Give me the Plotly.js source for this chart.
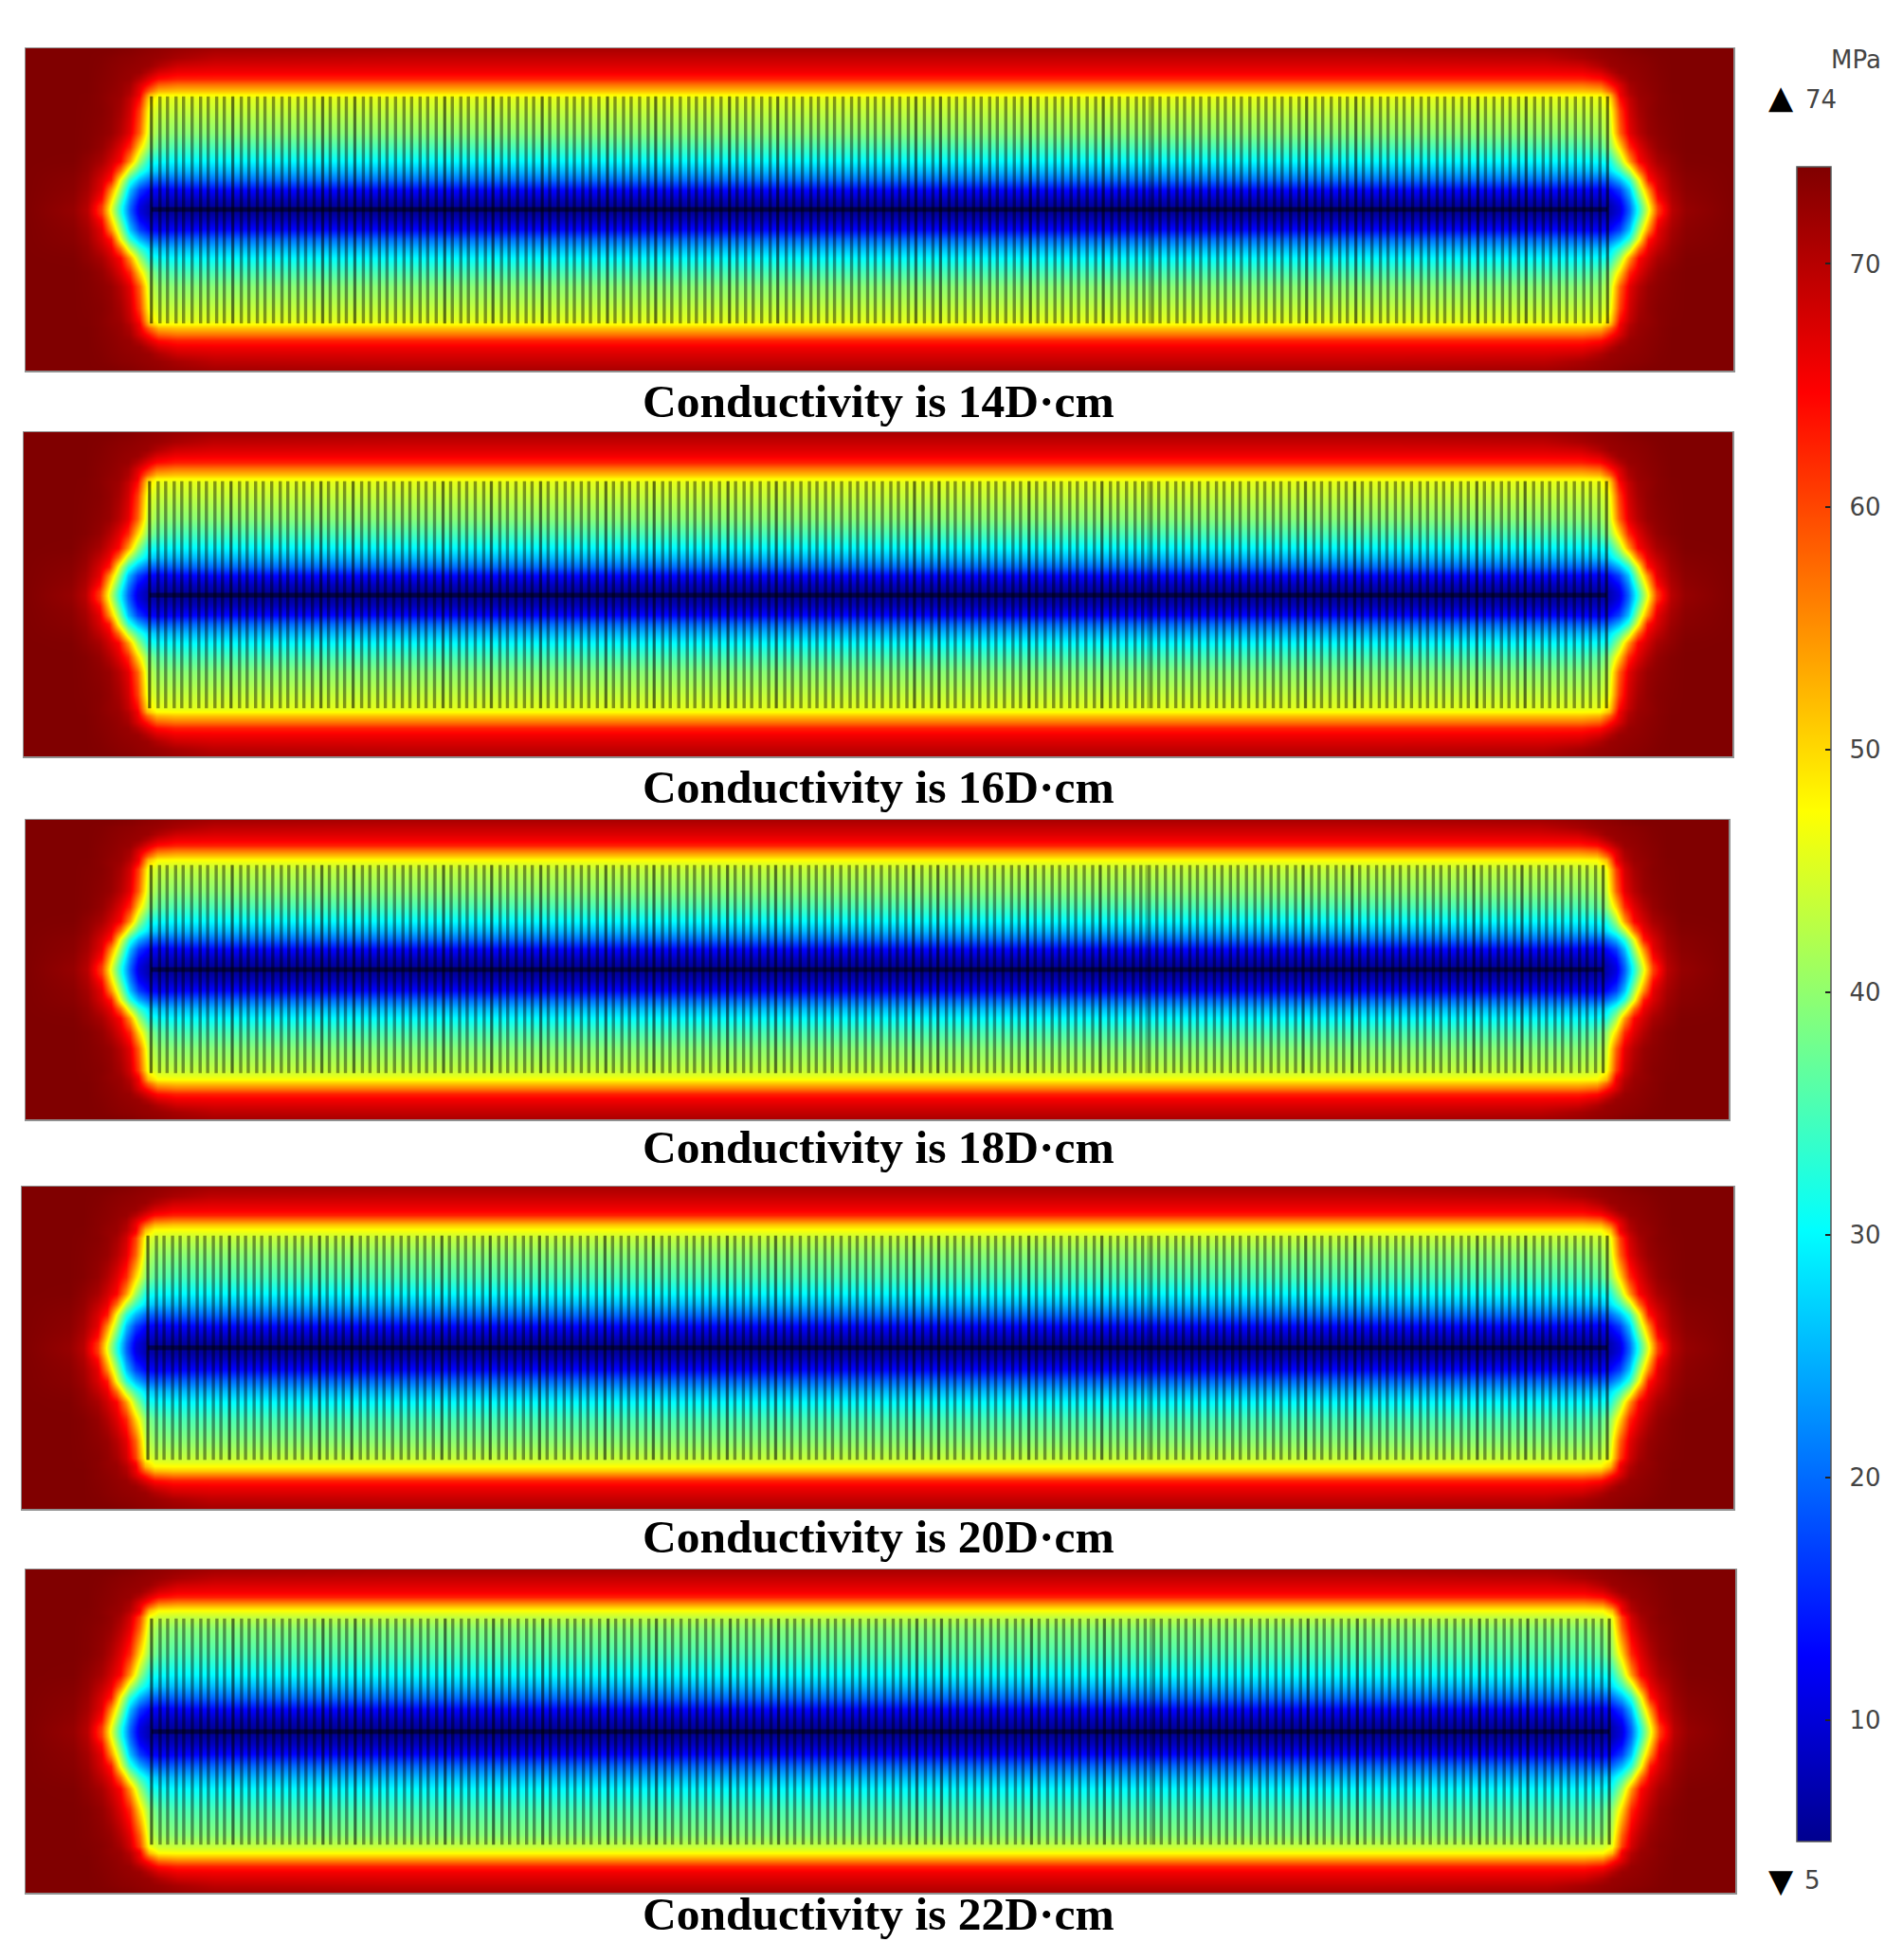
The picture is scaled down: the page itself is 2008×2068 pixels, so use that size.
<!DOCTYPE html>
<html>
<head>
<meta charset="utf-8">
<script src="https://cdn.plot.ly/plotly-3.0.1.min.js"></script>
<style>html,body{margin:0;padding:0;background:#fff}#chart{width:2008px;height:2068px}</style>
</head>
<body>
<div id="chart"></div>
<script>
// ---- captions ----
const captions = ["Conductivity is 14D·cm","Conductivity is 16D·cm","Conductivity is 18D·cm","Conductivity is 20D·cm","Conductivity is 22D·cm"];

// ---- pressure readings (MPa), top-left quarter of the section ----
const xNodes = [0,50,65,80,90,100,110,120,130,140,160,200,400,902];
const pressureRows = [
 [74,74,74,74,74,73.8,73.6,73.3,73,72.8,72.3,71.5,71,71],
 [74,74,74,73.8,73.5,73.2,73,72.7,72.4,72.1,71,69.5,69,69],
 [74,74,74,73.7,73.3,73,72.7,72.4,72,70.5,68.3,67.5,67.3,67.3],
 [74,74,74,73.6,73.2,72.8,72.4,72,70,67.5,65.8,65.5,65.5,65.5],
 [74,74,74,73.5,73.1,72.6,72.2,70,66.8,64,62.6,62.5,62.5,62.5],
 [74,74,74,73.4,73,72.4,71.3,67.5,63.5,58.5,57,57,57,57],
 [74,74,74,73.4,72.8,72.2,70.6,66,58,52.5,51.5,51.5,51.5,51.5],
 [74,74,73.9,73.3,72.6,72.1,70,65.6,52.5,47.8,47.5,47.5,47.5,47.5],
 [74,74,73.9,73.3,72.5,71.8,69,64,50,46,45.5,45.5,45.5,45.5],
 [74,74,73.8,73.4,72.6,71.2,68,60.5,46.5,44,43.5,43.5,43.5,43.5],
 [74,74,73.7,73,72.2,70,66.5,58,44,40.5,39.5,39.5,39.5,39.5],
 [74,74,73.6,72.4,70.3,67,62,50,40,36.5,35,35,35,35],
 [74,73.9,72.8,71,68,64.5,54,41,32,30.5,30,30,30,30],
 [74,73.6,72.4,69.2,66,57,43,34,28,26,25.5,25.5,25.5,25.5],
 [74,73.3,71.8,67.5,63,46.5,33,25,20,19,19.5,20,20,20],
 [74,73.1,71.2,66.5,55,41,26,17,13,12,12.5,13,13,13],
 [74,72.8,70.5,64,50,36,22,13,9.5,8.5,8.2,8.2,8.2,8.2],
 [74,72.5,70,61,47,33,20,11,7.5,6.5,6.2,6,6,6],
 [74,72.4,69.8,60.5,46,32.5,19.5,10.5,7.5,6.5,5.8,5.4,5.2,5.2]
];
// where each row of readings lies in each panel, from top edge to centre line
const yNodes14 = [0,10,18,25,32,38,45,49.5,53,66,90,105,120,130,140,150,160,167,171];
const yNodes16 = [0,10,18,25,32,38,45,49.5,53,67,92,108,123,133,143,152,162,169,173];
const yNodes18 = [0,8,15,21,27,32,38,42,46,52,75,93,108,118,127,137,147,155,159];
const yNodes20 = [0,10,17,24,30,35,40,45,49,54,72,96,114,125,136,148,159,166,171];
const yNodes22 = [0,9,16,23,29,34,39,43,46,50,62,90,112,124,136,148,159,167,172];

// ---- fracture / well positions along the section ----
const wells = [133,142,150,159,167,176,185,193,202,210,219,228,236,245,253,262,271,279,288,296,
305,314,322,331,339,348,357,365,374,382,391,400,408,417,425,434,443,451,460,468,
477,486,494,503,511,520,529,537,546,554,563,572,580,589,597,606,615,623,632,640,
649,658,666,675,683,692,701,709,718,726,735,744,752,761,769,778,787,795,804,812,
821,830,838,847,855,864,873,881,890,898,907,916,924,933,941,950,959,967,976,984,
993,1002,1010,1019,1027,1036,1045,1053,1062,1070,1079,1088,1096,1105,1113,1122,1131,1139,1148,1156,
1165,1174,1182,1191,1199,1208,1217,1225,1234,1242,1251,1260,1268,1277,1285,1294,1303,1311,1320,1328,
1337,1346,1354,1363,1371,1380,1389,1397,1406,1414,1423,1432,1440,1449,1457,1466,1475,1483,1492,1500,
1509,1518,1526,1535,1543,1552,1561,1569,1578,1586,1595,1604,1612,1621,1629,1638,1647,1655,1664,1672];
const darkerWells = [133,219,314,348,443,494,546,615,666,744,795,941,967,1062,1139,1188,1354,1406,1535,1586,1672];
const sectionLength = 1805;
const wellTop = [51,52,48,52,52];
const wellBottom = [292,293,269,290,292];
const centreLine = [171,173,159,171,172];
const sectionDepth = [342,344,318,342,343];

// ---- scale ----
const scaleMin = 5, scaleMax = 74;
const scaleTicks = [10,20,30,40,50,60,70];

// ---- page layout (pixels) ----
const W = 2008, H = 2068;
const pxLeft = [27,25,27,23,27], pxRight = [1829,1828,1824,1829,1831];
const pxTop = [51,456,865,1252,1656], pxBottom = [391,798,1181,1592,1997];
const captionY = [423,830,1210,1621,2019];
const captionX = 926.5;

const jet = [[0,'rgb(0,0,143)'],[0.111,'rgb(0,0,255)'],[0.365,'rgb(0,255,255)'],[0.615,'rgb(255,255,0)'],[0.865,'rgb(255,0,0)'],[1,'rgb(128,0,0)']];

// unfold the read quarter into the whole (symmetric) section
const fullX = xNodes.concat(xNodes.slice(0,-1).reverse().map(v => sectionLength - v));
const wideRows = pressureRows.map(r => r.concat(r.slice(0,-1).reverse()));
const fullZ = wideRows.concat(wideRows.slice(0,-1).reverse());

const labelFont = {family:'DejaVu Sans',size:26,color:'#444'};
const markFont = {family:'DejaVu Sans',size:34,color:'#000'};
const note = (px,py,text,font) => ({xref:'paper',yref:'paper',x:px/W,y:1-py/H,xanchor:'center',yanchor:'middle',text,showarrow:false,font});

const yTables = [yNodes14,yNodes16,yNodes18,yNodes20,yNodes22];
const data = [], layout = {
  width: W, height: H, autosize: false,
  margin: {l:0,r:0,t:0,b:0,pad:0},
  paper_bgcolor: '#fff', plot_bgcolor: '#fff', showlegend: false,
  coloraxis: {
    cmin: scaleMin, cmax: scaleMax, colorscale: jet,
    colorbar: {
      x: 1896/W, xanchor: 'left', xpad: 0, ypad: 0,
      y: 1 - 1059.5/H, yanchor: 'middle',
      lenmode: 'pixels', len: 1767, thicknessmode: 'pixels', thickness: 36,
      outlinecolor: '#555', outlinewidth: 1.5, bordercolor: 'rgba(0,0,0,0)',
      tickmode: 'array', tickvals: scaleTicks, ticktext: scaleTicks.map(v => '\u2002' + v),
      ticks: 'inside', ticklen: 6, tickwidth: 2, tickcolor: '#222',
      tickfont: labelFont
    }
  },
  annotations: [
    note(1958,63,'MPa',labelFont),
    note(1879,102,'▲',markFont),
    note(1921,105,'74',labelFont),
    note(1879,1984,'▼',markFont),
    note(1912,1984,'5',labelFont)
  ]
};

captions.forEach((cap, i) => {
  const k = i === 0 ? '' : String(i+1);
  const xa = 'x'+k, ya = 'y'+k;
  const c = centreLine[i];
  const yFull = yTables[i].concat(yTables[i].slice(0,-1).reverse().map(v => 2*c - v));
  data.push({type:'heatmap', x: fullX, y: yFull, z: fullZ, zsmooth:'best', coloraxis:'coloraxis', xaxis:xa, yaxis:ya, hoverinfo:'skip'});
  const wx = [], wy = [];
  wells.forEach(v => { wx.push(v,v,null); wy.push(wellTop[i],wellBottom[i],null); });
  data.push({type:'scatter', mode:'lines', x:wx, y:wy, xaxis:xa, yaxis:ya, line:{color:'rgba(0,0,0,0.42)',width:3.4}, hoverinfo:'skip'});
  const dx = [], dy = [];
  darkerWells.forEach(v => { dx.push(v,v,null); dy.push(wellTop[i],wellBottom[i],null); });
  data.push({type:'scatter', mode:'lines', x:dx, y:dy, xaxis:xa, yaxis:ya, line:{color:'rgba(0,0,0,0.25)',width:2.5}, hoverinfo:'skip'});
  data.push({type:'scatter', mode:'lines', x:[wells[0],wells[wells.length-1]], y:[c,c], xaxis:xa, yaxis:ya, line:{color:'rgba(0,0,0,0.5)',width:5}, hoverinfo:'skip'});
  layout['xaxis'+k] = {
    domain:[pxLeft[i]/W, pxRight[i]/W], range:[0,sectionLength], anchor:ya,
    showgrid:false, zeroline:false, ticks:'', showticklabels:false,
    showline:true, mirror:true, linecolor:'rgba(70,70,70,0.6)', linewidth:1.5
  };
  layout['yaxis'+k] = {
    domain:[1-pxBottom[i]/H, 1-pxTop[i]/H], range:[sectionDepth[i],0], anchor:xa,
    showgrid:false, zeroline:false, ticks:'', showticklabels:false,
    showline:true, mirror:true, linecolor:'rgba(70,70,70,0.6)', linewidth:1.5
  };
  layout.annotations.push(note(captionX, captionY[i], cap, {family:'Liberation Serif', size:49.5, color:'#000', weight:'bold'}));
});

Plotly.newPlot('chart', data, layout, {staticPlot:true, displayModeBar:false});
</script>
</body>
</html>
